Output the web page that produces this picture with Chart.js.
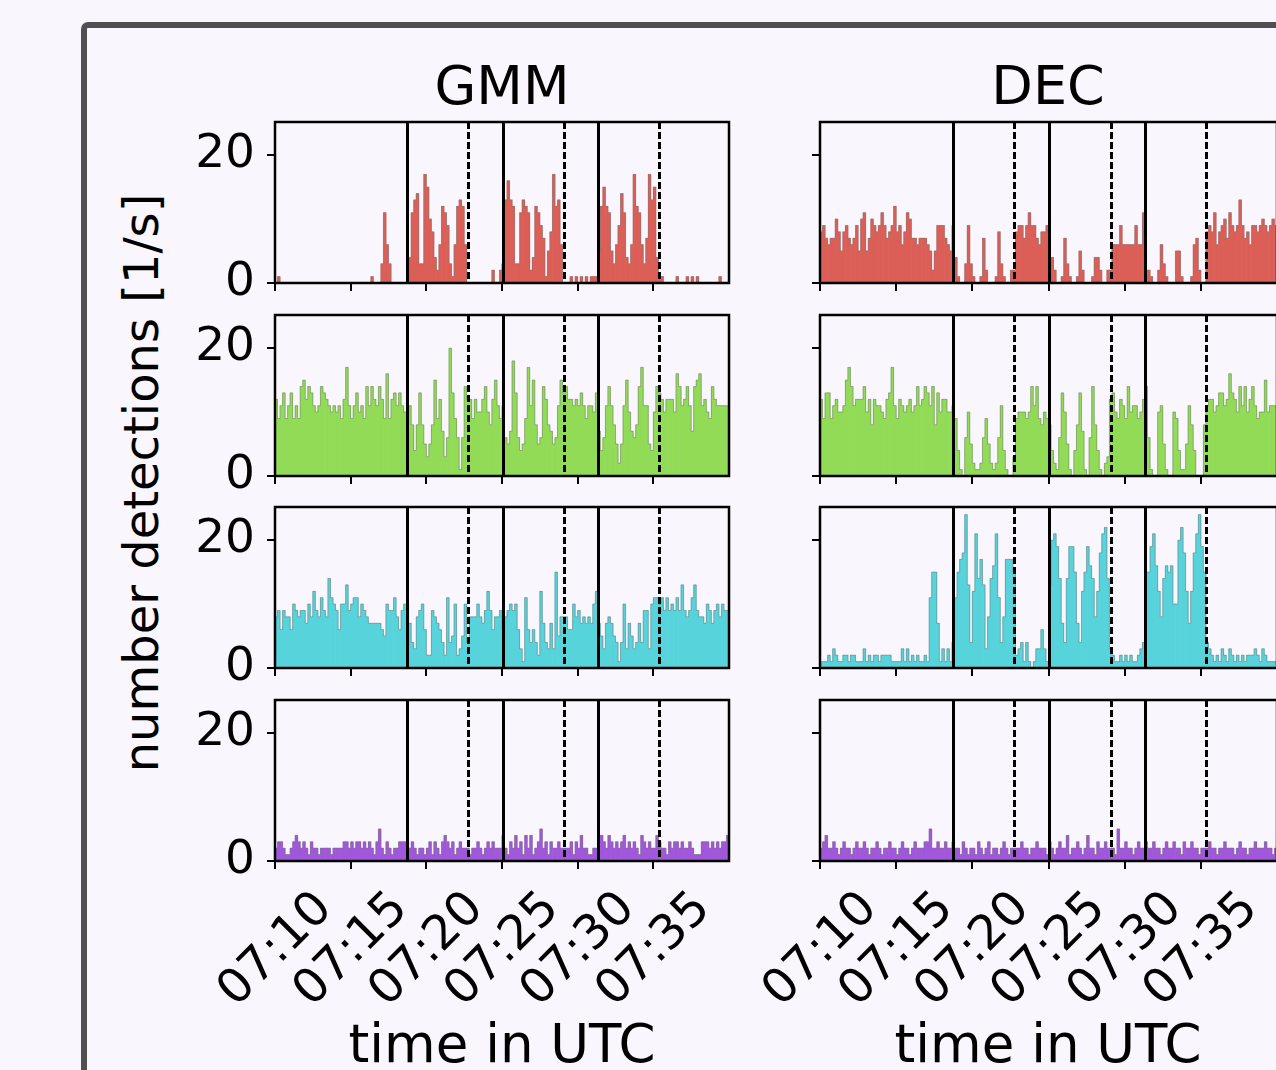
<!DOCTYPE html>
<html>
<head>
<meta charset="utf-8">
<script src="https://cdn.jsdelivr.net/npm/chart.js@4.4.1/dist/chart.umd.min.js"></script>
<style>
  html, body { margin: 0; padding: 0; }
  body { width: 1276px; height: 1070px; overflow: hidden; position: relative; background: #faf6fd; font-family: 'DejaVu Sans', sans-serif; color: #000; }
  #frame { position: absolute; left: 81px; top: 22px; width: 1400px; height: 1200px; border-left: 6px solid #4f4f4f; border-top: 6px solid #4f4f4f; border-top-left-radius: 7px; }
  canvas { position: absolute; }
  .title, .xlabel { position: absolute; width: 600px; text-align: center; white-space: nowrap; }
  .title { font-size: 54px; line-height: 54px; top: 59px; }
  .xlabel { font-size: 53px; line-height: 53px; top: 1017px; }
  #ylabel { position: absolute; width: 700px; height: 48px; font-size: 48px; line-height: 48px; text-align: center; white-space: nowrap; left: -209px; top: 459px; transform: rotate(-90deg); }
</style>
</head>
<body>
<div id="frame"></div>
<div class="title" style="left: 202px;">GMM</div>
<div class="title" style="left: 748px;">DEC</div>
<div class="xlabel" style="left: 202px;">time in UTC</div>
<div class="xlabel" style="left: 748px;">time in UTC</div>
<div id="ylabel">number detections [1/s]</div>
<script>
// detections per 10 s bin, 07:10 - 07:40 (180 bins)
const gmmRed = [
  0,1,0,0,0,0,0,0,0,0, 0,0,0,0,0,0,0,0,0,0, 0,0,0,0,0,0,0,0,0,0, 0,0,0,0,0,0,0,0,1,0, 0,0,3,11,6,3,0,0,0,0, 0,0,0,
  4,11,13,14,3,3,17,15,10,8,4,2,6,12,11,9,3,1,6,12,13,12,6,0,
  0,0,0,0,0,0,0,0,0,2,0,0,2,
  3,13,16,13,12,3,3,11,13,12,11,2,4,12,11,9,7,1,5,8,17,12,13,6,0,
  0,0,1,0,1,0,1,0,1,0,1,1,1,
  5,12,15,12,11,5,3,6,9,14,11,4,3,6,17,12,11,6,3,7,17,13,15,4,
  1,1,0,0,0,0,0,1,0,0,0,1,0,1,0,1,0,0,0,0,0,0,0,0,1,0,0,0
];
const decRed = [
  8,9,7,6,7,7,10,8,5,8, 9,7,6,7,9,5,10,11,5,7, 10,9,8,9,11,9,7,8,9,12, 8,9,6,8,11,10,7,7,6,7, 7,7,6,5,2,5,9,9,9,7, 6,5,9,
  4,1,0,0,3,9,3,1,0,0,1,7,2,0,0,0,1,8,3,1,0,0,2,2,
  8,9,9,7,9,11,9,9,7,6,8,8,9,
  1,4,2,0,0,1,7,3,1,0,0,1,5,2,0,0,0,1,4,4,2,0,0,2,2,
  6,6,6,9,6,6,6,6,6,9,6,6,11,
  1,2,1,0,0,2,6,3,1,0,0,0,5,5,1,0,0,0,1,6,7,2,0,0,
  8,9,8,11,6,8,9,10,7,11,9,8,9,13,9,7,8,6,9,9,8,9,10,9,8,9,10,9
];
const gmmGreen = [
  12,9,11,13,9,11,13,9,11,9, 14,15,12,14,13,11,10,11,14,13, 12,11,10,11,10,11,9,12,17,11, 9,11,13,10,11,9,14,11,14,12, 11,14,12,9,16,9,12,13,11,13, 11,10,10,
  11,8,4,8,13,8,5,3,5,8,15,9,12,7,3,6,20,13,9,6,1,6,14,12,
  12,9,12,10,10,12,14,10,8,12,15,11,9,
  11,6,5,7,18,13,6,4,5,9,17,11,15,8,5,6,14,12,8,7,5,6,11,15,13,
  14,12,12,11,12,11,13,11,9,11,11,10,13,
  7,4,6,11,14,11,8,5,2,5,11,15,10,7,6,8,14,17,11,11,5,4,10,14,
  13,12,10,12,12,12,10,16,14,11,12,14,11,7,14,15,16,11,12,10,9,14,12,11,11,11,11,11
];
const decGreen = [
  12,9,13,13,9,11,12,10,10,11, 15,17,14,11,12,12,12,14,10,12, 8,12,11,11,10,9,12,13,17,11, 9,12,11,10,11,12,10,11,14,11, 12,14,13,11,14,8,13,10,12,12, 10,10,11,
  9,4,1,0,6,10,5,2,1,1,2,6,9,5,2,1,2,6,11,4,1,0,0,3,
  9,10,10,10,9,10,14,11,14,9,8,10,9,
  8,4,2,1,6,13,10,5,1,0,4,8,13,7,1,0,6,14,8,4,1,0,2,3,12,
  13,10,9,12,11,9,14,10,11,11,9,10,12,
  14,6,1,0,0,10,11,5,1,0,0,10,9,4,1,1,5,11,8,4,0,0,0,8,
  11,12,12,10,11,13,13,11,12,16,13,12,10,14,11,14,10,12,14,11,9,10,10,15,10,11,11,11
];
const gmmCyan = [
  8,9,6,9,8,8,6,10,9,8, 9,9,7,10,8,12,9,8,11,9, 8,14,11,10,9,6,10,10,13,9, 10,11,11,8,10,9,8,7,7,7, 7,7,6,5,10,9,9,11,8,6, 9,10,10,
  7,4,3,8,9,10,6,2,2,9,8,7,6,4,2,11,4,5,10,2,3,5,10,4,
  8,8,8,10,8,7,9,12,9,6,8,8,9,
  6,8,9,10,9,10,6,3,1,11,6,4,6,4,2,12,7,4,3,7,3,15,5,8,8,
  8,6,6,10,8,9,7,8,7,8,7,10,12,
  7,5,3,7,8,7,5,4,1,4,10,3,7,5,3,4,7,4,9,9,3,10,11,11,
  10,11,9,11,9,10,9,11,9,13,9,8,9,11,13,9,8,8,7,10,9,7,9,10,8,10,9,9
];
const decCyan = [
  1,1,1,2,1,3,2,1,1,2, 2,1,2,2,1,1,1,3,1,2, 1,2,2,1,2,2,2,2,1,1, 1,1,3,1,3,1,2,1,2,1, 1,2,1,11,15,15,7,1,3,1, 3,1,4,
  11,15,17,18,24,13,4,12,21,14,17,13,3,8,14,16,21,11,4,8,17,17,17,15,
  2,3,4,1,4,1,0,1,3,3,6,3,1,
  13,20,21,19,14,7,4,14,19,19,15,7,4,12,15,19,16,14,8,12,18,21,22,14,3,
  2,1,1,2,1,2,1,2,1,1,2,3,4,
  15,15,19,21,16,12,8,14,16,15,16,10,10,20,22,18,12,7,12,18,21,24,19,15,
  4,3,2,1,2,1,3,2,1,3,2,1,2,1,2,1,2,2,2,3,2,1,3,2,1,1,1,1
];
const gmmPurple = [
  2,3,3,2,1,1,2,3,4,3, 2,3,2,1,3,2,2,1,2,2, 2,2,1,2,2,2,2,3,3,2, 3,2,3,3,2,3,2,3,2,1, 3,5,2,1,3,2,1,2,2,3, 3,3,3,
  2,3,2,1,2,2,1,2,3,1,3,2,1,3,4,3,2,3,1,2,3,2,2,2,
  1,2,2,3,2,1,2,3,2,3,2,2,2,
  4,2,1,3,2,4,2,3,1,4,2,4,1,2,3,5,2,3,1,3,2,2,3,2,2,
  2,2,3,1,3,2,4,2,2,1,1,2,2,
  4,4,3,2,4,3,2,3,2,3,4,2,3,2,3,2,1,4,3,2,3,2,2,4,
  3,2,2,1,3,2,3,3,2,3,2,2,3,2,1,1,1,3,3,3,2,3,2,3,2,3,3,4
];
const decPurple = [
  2,3,4,2,2,3,2,1,2,3, 2,2,1,2,3,2,2,3,2,1, 2,2,3,2,1,2,2,3,2,2, 1,2,3,2,2,1,2,3,2,2, 2,3,3,5,2,2,3,2,2,3, 2,2,3,
  2,2,1,3,2,1,2,2,1,3,2,1,2,3,1,2,2,1,2,3,2,1,2,2,
  2,2,3,2,2,1,2,2,3,2,2,2,1,
  3,2,1,2,3,2,2,4,1,2,2,3,2,1,2,4,2,2,1,3,2,2,3,2,2,
  2,1,5,2,2,3,2,2,1,2,3,2,2,
  3,2,2,3,2,2,1,2,3,2,2,3,2,2,1,3,2,2,3,2,2,1,2,2,
  2,3,2,2,1,2,2,3,2,2,2,1,2,3,2,2,1,2,2,3,2,2,2,3,2,2,1,2
];

const binSeconds = 10;
const startTime = '07:10';
const endTime = '07:40';
const xTickLabels = ['07:10', '07:15', '07:20', '07:25', '07:30', '07:35'];
const yTicks = [0, 20];
const yMax = 25.2;
const solidLines = ['07:18:45', '07:25:03', '07:31:22'];
const dashedLines = ['07:22:46', '07:29:06', '07:35:21'];
const rowColors = ['#db5f57', '#91db57', '#57d3db', '#a157db'];
const series = [
  [gmmRed, decRed],
  [gmmGreen, decGreen],
  [gmmCyan, decCyan],
  [gmmPurple, decPurple]
];

const toSec = (t) => {
  const [h, m, s = 0] = t.split(':').map(Number);
  return h * 3600 + m * 60 + s;
};
const t0 = toSec(startTime);
const xTickSec = xTickLabels.map((t) => toSec(t) - t0);

// panel geometry in page pixels
const colLeft = [275, 820];
const colWidth = [454, 457];
const rowTop = [122, 315, 507, 700];
const plotHeight = 161;
const axisW = 90;
const padTop = 30;
const padRight = 10;

Chart.defaults.font.family = "'DejaVu Sans'";
Chart.defaults.color = '#000';

const panelFrame = {
  id: 'panelFrame',
  afterDatasetsDraw(chart) {
    const { ctx, chartArea: a, scales: { x } } = chart;
    const vline = (t) => {
      const px = Math.round(x.getPixelForValue(toSec(t) - t0)) + 0.5;
      ctx.beginPath();
      ctx.moveTo(px, a.top);
      ctx.lineTo(px, a.bottom);
      ctx.stroke();
    };
    ctx.save();
    ctx.strokeStyle = '#000';
    ctx.lineWidth = 3;
    solidLines.forEach(vline);
    ctx.setLineDash([7, 3]);
    dashedLines.forEach(vline);
    ctx.setLineDash([]);
    ctx.lineWidth = 2.5;
    ctx.strokeRect(a.left, a.top, a.width, a.height);
    ctx.restore();
  }
};

const makePanel = (row, col) => {
  const bottom = row === series.length - 1;
  const xAxisH = bottom ? 190 : 30;
  const canvas = document.createElement('canvas');
  canvas.width = axisW + colWidth[col] + padRight;
  canvas.height = padTop + plotHeight + xAxisH;
  canvas.style.left = (colLeft[col] - axisW) + 'px';
  canvas.style.top = (rowTop[row] - padTop) + 'px';
  document.body.appendChild(canvas);

  const points = series[row][col].map((v, i) => ({ x: i * binSeconds + binSeconds / 2, y: v }));

  new Chart(canvas, {
    type: 'bar',
    data: {
      datasets: [
        {
          type: 'line',
          data: points,
          stepped: 'middle',
          borderColor: 'rgba(120,120,120,0.5)',
          borderWidth: 1,
          pointRadius: 0,
          fill: false,
          order: 1
        },
        {
          data: points,
          backgroundColor: rowColors[row],
          borderWidth: 0,
          barPercentage: 1,
          categoryPercentage: 1,
          order: 2
        }
      ]
    },
    options: {
      responsive: false,
      animation: false,
      devicePixelRatio: 1,
      layout: { padding: { top: padTop, right: padRight, left: 0, bottom: 0 } },
      plugins: { legend: { display: false }, tooltip: { enabled: false } },
      scales: {
        x: {
          type: 'linear',
          min: 0,
          max: toSec(endTime) - t0,
          offset: false,
          border: { display: false },
          grid: { offset: false, drawOnChartArea: false, color: '#000', lineWidth: 2, tickLength: 8 },
          afterBuildTicks: (s) => { s.ticks = xTickSec.map((v) => ({ value: v })); },
          afterFit: (s) => { s.height = xAxisH; s.paddingLeft = 0; s.paddingRight = 0; },
          ticks: {
            autoSkip: false,
            minRotation: 45,
            maxRotation: 45,
            padding: 12,
            labelOffset: 50,
            font: { size: 48 },
            callback: (v, i) => (bottom ? xTickLabels[i] : '')
          }
        },
        y: {
          min: 0,
          max: yMax,
          border: { display: false },
          grid: { drawOnChartArea: false, color: '#000', lineWidth: 2, tickLength: 8 },
          afterBuildTicks: (s) => { s.ticks = yTicks.map((v) => ({ value: v })); },
          afterFit: (s) => { s.width = axisW; s.paddingTop = 0; s.paddingBottom = 0; },
          ticks: {
            padding: 12,
            font: { size: 47 },
            callback: (v) => (col === 0 ? String(v) : '')
          }
        }
      }
    },
    plugins: [panelFrame]
  });
};

series.forEach((pair, row) => pair.forEach((_, col) => makePanel(row, col)));
</script>
</body>
</html>
